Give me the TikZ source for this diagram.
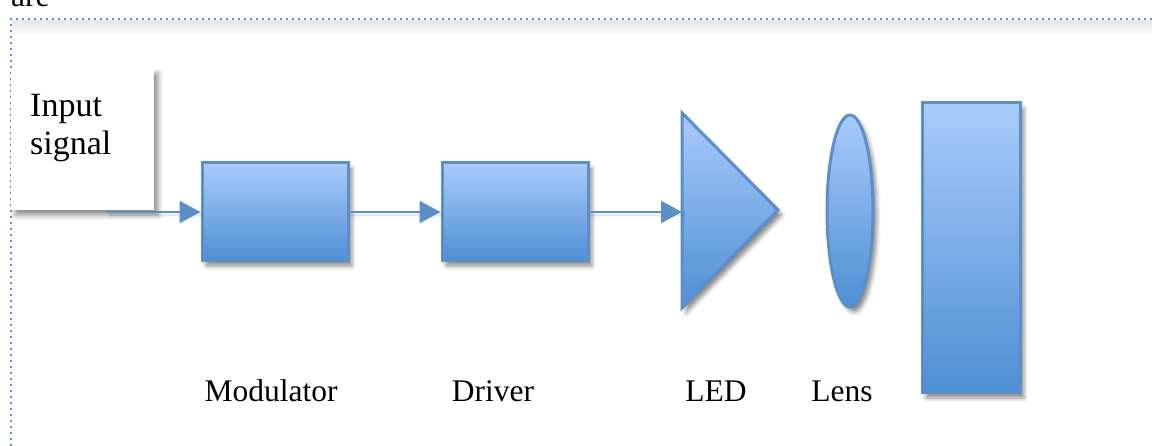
\documentclass[tikz,border=0pt]{standalone}
\usepackage{fontspec}
\setmainfont{Liberation Serif}
\usetikzlibrary{shapes.geometric,shadows.blur,arrows.meta}
\definecolor{edgeblue}{HTML}{5B8FC8}
\definecolor{topblue}{HTML}{A9CBFB}
\definecolor{botblue}{HTML}{4E8FD4}
\definecolor{framedot}{HTML}{5F92CF}
\tikzset{
  block/.style={draw=edgeblue, line width=3pt, top color=topblue, bottom color=botblue,
    blur shadow={shadow xshift=4pt, shadow yshift=-5pt, shadow blur radius=4pt, shadow opacity=45}},
  flow/.style={draw=edgeblue, line width=2pt, -{Triangle[length=21pt,width=22pt]},
    blur shadow={shadow xshift=2pt, shadow yshift=-3pt, shadow blur radius=3pt, shadow opacity=20}},
  caption/.style={font=\fontsize{31.5}{36}\selectfont, anchor=base},
}
\begin{document}
\begin{tikzpicture}[x=1pt,y=-1pt]
\useasboundingbox (0,0) rectangle (1152,446);
% text frame with its soft shadow
\shade[top color=black!9, bottom color=white] (12,21) rectangle (1152,36);
\draw[framedot, line width=2pt, dash pattern=on 2pt off 4pt] (11,446) -- (11,19) -- (1152,19);
\node[caption, anchor=base west, inner sep=0pt] (are) at (11,7) {are};
% input box
\node[fill=white, anchor=north west, minimum width=143pt, minimum height=142pt, inner sep=0pt,
  blur shadow={shadow xshift=4pt, shadow yshift=-5pt, shadow blur radius=5pt, shadow opacity=45}]
  (input) at (11,68) {};
\node[anchor=base west, inner sep=0pt, font=\fontsize{34}{38}\selectfont] (intext1) at (30,117) {Input};
\node[anchor=base west, inner sep=0pt, font=\fontsize{34}{38}\selectfont] (intext2) at (30,155) {signal};
% blocks
\node[block, minimum width=146pt, minimum height=98pt, inner sep=0pt] (mod) at (275,212) {};
\node[block, minimum width=146pt, minimum height=98pt, inner sep=0pt] (drv) at (515,212) {};
\path[block] (682,113) -- (778,210) -- (682,308) -- cycle;
\coordinate (led) at (682,212);
\node[block, ellipse, minimum width=46pt, minimum height=192pt, inner sep=0pt] (lens) at (850,211) {};
\node[block, minimum width=98pt, minimum height=290pt, inner sep=0pt] (det) at (971,248) {};
% connectors
\coordinate (in) at (107,212);
\draw[flow] (in) -- (mod.west);
\draw[flow] (mod.east) -- (drv.west);
\draw[flow] (drv.east) -- (led);
% labels
\node[caption] (lmod) at (271,402) {Modulator};
\node[caption] (ldrv) at (493,402) {Driver};
\node[caption] (lled) at (716,402) {LED};
\node[caption] (llens) at (842,402) {Lens};
\end{tikzpicture}
\end{document}
